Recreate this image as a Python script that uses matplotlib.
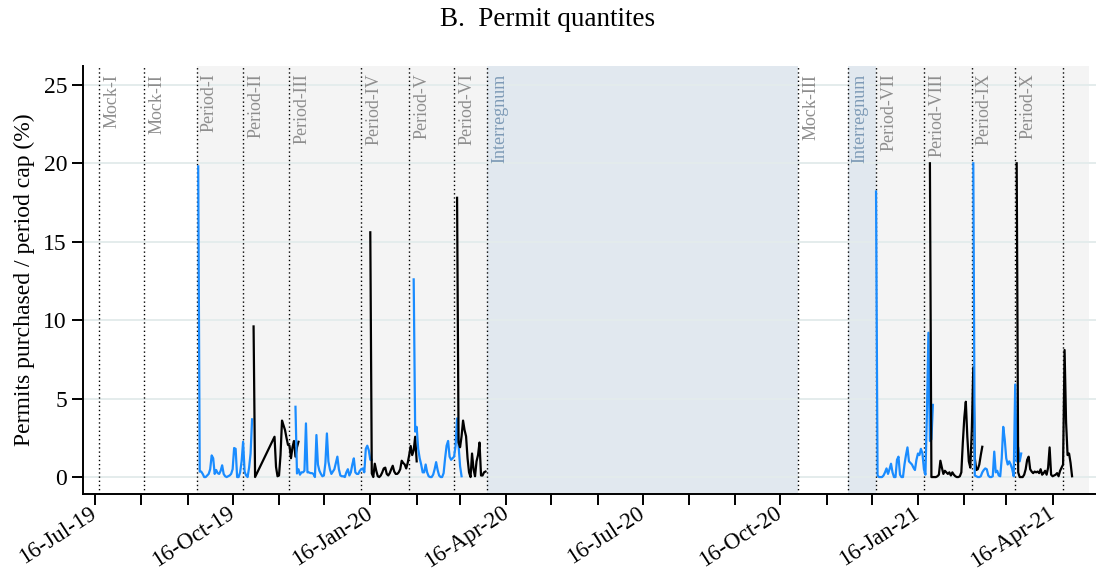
import numpy as np
import pandas as pd
import matplotlib
matplotlib.use("Agg")
import matplotlib.pyplot as plt
import matplotlib.dates as mdates
import matplotlib.transforms as mtransforms

plt.rcParams["font.family"] = ["Liberation Serif", "DejaVu Serif"]

# ---- phase boundaries -------------------------------------------------------
phase_starts = ["2019-07-19", "2019-08-18", "2019-09-22", "2019-10-23", "2019-11-23",
                "2020-01-10", "2020-02-11", "2020-03-12", "2020-04-03", "2020-10-28",
                "2020-11-30", "2020-12-19", "2021-01-20", "2021-02-21", "2021-03-22",
                "2021-04-23"]
phase_names = ["Mock-I", "Mock-II", "Period-I", "Period-II", "Period-III",
               "Period-IV", "Period-V", "Period-VI", "Interregnum", "Mock-III",
               "Interregnum", "Period-VII", "Period-VIII", "Period-IX", "Period-X", ""]

active_spans = [("2019-09-22", "2020-04-03"), ("2020-12-19", "2021-05-10")]
interregnum_spans = [("2020-04-03", "2020-10-28"), ("2020-11-30", "2020-12-19")]

# ---- daily purchases as % of period cap ------------------------------------
p1_start = "2019-09-23"
p1_vals = [19.8, 0.35, 0.35, 0.2, 0.0, 0.0, 0.1, 0.2, 0.5, 1.38, 1.2, 0.2, 0.45,
           0.25, 0.2, 0.4, 0.75, 0.2, 0.05, 0.0, 0.05, 0.1, 0.2, 0.5, 1.85, 1.8,
           0.0, 0.0, 0.3, 1.0, 2.25, 0.35, 0.1, 0.0, 0.6, 1.5, 3.68]

p2_start = "2019-10-30"
p2_vals = [9.6, 0.0, None, None, None, None, None, None, None, None, None, None,
           None, None, 2.57, 0.65, 0.05, 0.1, 1.4, 3.6, 3.3, 3.0, 2.5, 2.05, 2.0,
           1.2, 1.9, 2.3, 1.3, 1.9, 2.25]

p3_start = "2019-11-27"
p3_vals = [4.48, 0.23, 0.5, 0.15, 0.3, 0.3, 0.4, 3.42, 0.3, 0.3, 0.25, 0.25, 0.2,
           0.0, 2.68, 0.8, 0.4, 0.2, 0.05, 0.1, 0.9, 2.78, 1.0, 0.5, 0.2, 0.35,
           0.5, 0.9, 1.3, 0.5, 0.1, 0.05, 0.05, 0.0, 0.3, 0.5, 0.1, 0.3, 0.8,
           1.19, 0.3, 0.2, 0.2, 0.4, 0.5, 0.55, 0.3, 1.8, 2.0, 1.7, 1.1, 1.1]

p4_start = "2020-01-16"
p4_vals = [15.6, 0.23, 0.0, 0.85, 0.4, 0.05, 0.0, 0.1, 0.3, 0.55, 0.6, 0.2, 0.1,
           0.25, 0.5, 0.72, 0.35, 0.2, 0.2, 0.3, 0.5, 1.04, 0.9, 0.8, 0.55, 0.9,
           1.4, 1.98, 1.4, 1.7, 2.57, 1.0]

p5_start = "2020-02-14"
p5_vals = [12.6, 2.9, 3.2, 1.8, 1.2, 0.8, 0.3, 0.3, 0.8, 0.3, 0.05, 0.0, 0.0,
           0.15, 0.5, 0.95, 0.45, 0.1, 0.0, 0.0, 0.25, 1.2, 2.0, 2.3, 1.3, 1.1,
           1.2, 1.3, 2.0, 3.74, 2.0, 0.7, 0.05]

p6_start = "2020-03-14"
p6_vals = [17.8, 2.2, 1.9, 2.6, 3.6, 3.0, 2.6, 1.2, 0.3, 0.0, 1.5, 0.5, 0.05,
           1.0, 1.4, 2.2, 0.1, 0.1, 0.3, 0.35]

p7_start = "2020-12-19"
p7_vals = [18.2, 0.1, 0.0, 0.0, 0.0, 0.1, 0.3, 0.55, 0.2, 0.5, 0.85, 0.3, 0.0,
           0.0, 1.1, 1.3, 0.15, 0.0, 0.0, 0.8, 1.4, 1.89, 1.0, 0.9, 0.8, 0.6,
           0.45, 1.1, 1.5, 1.4, 1.8, 1.5, 0.5, 0.15, 4.0, 9.2, 2.3, 2.4, 4.6]

p8_start = "2021-01-24"
p8_vals = [20.0, 0.0, 0.0, 0.0, 0.0, 0.05, 0.15, 1.04, 0.6, 0.2, 0.4, 0.3, 0.2,
           0.3, 0.1, 0.3, 0.15, 0.05, 0.0, 0.0, 0.05, 0.3, 2.2, 3.8, 4.8, 2.57,
           1.0, 0.6, 3.0, 7.0, 1.2, 0.45, 0.5, 0.8, 1.4, 1.93]

p9_start = "2021-02-22"
p9_vals = [20.0, 0.1, 0.05, 0.0, 0.0, 0.05, 0.3, 0.45, 0.55, 0.5, 0.1, 0.0, 0.0,
           0.05, 1.62, 0.3, 0.4, 0.1, 0.05, 1.2, 3.2, 2.4, 1.2, 0.8, 1.0, 0.8,
           0.5, 0.05, 5.9, 1.0, 1.9, 1.0, 1.5]

p10_start = "2021-03-23"
p10_vals = [20.0, 0.3, 0.0, 0.0, 0.0, 0.15, 0.5, 1.1, 1.3, 0.5, 0.35, 0.25, 0.35,
            0.3, 0.35, 0.25, 0.5, 0.15, 0.25, 0.4, 0.15, 0.6, 1.89, 0.15, 0.05,
            0.1, 0.15, 0.25, 0.05, 0.4, 0.6, 0.8, 8.1, 3.5, 1.4, 1.5, 0.9, 0.05]

series = [(p1_start, p1_vals), (p2_start, p2_vals), (p3_start, p3_vals),
          (p4_start, p4_vals), (p5_start, p5_vals), (p6_start, p6_vals),
          (p7_start, p7_vals), (p8_start, p8_vals), (p9_start, p9_vals),
          (p10_start, p10_vals)]

y_ticks = [0, 5, 10, 15, 20, 25]

BLUE = "#1a8cff"
GREY_BG = "#f4f4f4"
INTER_BG = "#e1e8ef"
GRID = "#e4ecec"

fig = plt.figure(figsize=(10.96, 5.71), dpi=100)
ax = fig.add_axes([83 / 1096, 1 - 494 / 571, 1 - 83 / 1096, (494 - 66) / 571])

d = pd.to_datetime
for a, b in active_spans:
    ax.axvspan(d(a), d(b), color=GREY_BG, lw=0, zorder=0)
for a, b in interregnum_spans:
    ax.axvspan(d(a), d(b), color=INTER_BG, lw=0, zorder=0)

for yv in y_ticks:
    ax.axhline(yv, color=GRID, lw=1.4, zorder=1)

label_tf = mtransforms.blended_transform_factory(ax.transData, ax.transAxes)
for start, name in zip(phase_starts, phase_names):
    ax.axvline(d(start), color="black", lw=1.0, ls=(0, (1, 2)), zorder=2)
    if name:
        col = "#7d9ab6" if name == "Interregnum" else "#8e8e8e"
        ax.annotate(name, xy=(mdates.date2num(d(start)), 0.982), xycoords=label_tf,
                    xytext=(3, 0), textcoords="offset points", rotation=90,
                    ha="left", va="top", fontsize=13, color=col, zorder=3)

for i, (start, vals) in enumerate(series):
    s = pd.Series(vals, index=pd.date_range(start, periods=len(vals), freq="D"),
                  dtype=float).dropna()
    ax.plot(s.index, s.values, color=BLUE if i % 2 == 0 else "black",
            lw=1.6, zorder=4)

ax.set_xlim(d("2019-07-08"), d("2021-05-15"))
ax.set_ylim(-1.08, 26.2)
ax.set_yticks(y_ticks)

ax.xaxis.set_major_locator(mdates.MonthLocator(bymonth=(1, 4, 7, 10), bymonthday=16))
ax.xaxis.set_minor_locator(mdates.MonthLocator(bymonthday=16))
ax.xaxis.set_major_formatter(mdates.DateFormatter("%d-%b-%y"))

ax.tick_params(axis="both", which="both", direction="out", length=8, width=1.4,
               labelsize=17, color="black")
ax.tick_params(axis="x", which="major", pad=4.5, labelsize=16.5)
fig.canvas.draw()
for lab in ax.get_xticklabels():
    lab.set_rotation(33)
    lab.set_ha("right")
    lab.set_va("center")
    lab.set_rotation_mode("anchor")

ax.spines["top"].set_visible(False)
ax.spines["right"].set_visible(False)
for sp in ("left", "bottom"):
    ax.spines[sp].set_linewidth(1.4)

ax.set_ylabel("Permits purchased / period cap (%)", fontsize=17, labelpad=6)
fig.text(0.5, 1 - 19 / 571, "B.  Permit quantites", ha="center", va="center",
         fontsize=19.5)

fig.savefig("out.png", dpi=100)
